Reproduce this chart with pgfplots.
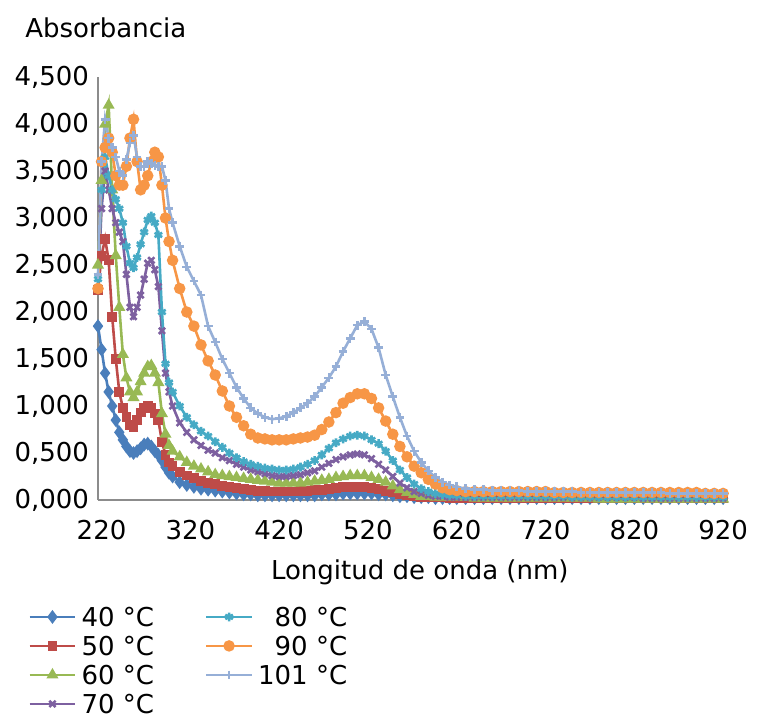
\documentclass[border=0pt]{standalone}
\usepackage{fontspec}
\setmainfont{DejaVu Sans}
\usepackage{pgfplots}
\usepackage{pgfplotstable}
\pgfplotsset{compat=1.18}

\definecolor{c40}{RGB}{74,126,187}
\definecolor{c50}{RGB}{190,75,72}
\definecolor{c60}{RGB}{152,185,84}
\definecolor{c70}{RGB}{125,96,160}
\definecolor{c80}{RGB}{70,170,197}
\definecolor{c90}{RGB}{247,150,70}
\definecolor{c101}{RGB}{150,175,215}
\definecolor{axgray}{RGB}{140,140,140}

% absorbance vs wavelength
\pgfplotstableread{
nm  a40  a50  a60  a70  a80  a90  a101
216 1.85 2.23 2.50 2.25 2.35 2.25 2.40
220 1.60 2.60 3.40 3.10 3.30 3.60 3.60
224 1.35 2.78 4.00 3.50 3.65 3.75 4.05
228 1.15 2.55 4.20 3.30 3.45 3.85 3.85
232 1.00 1.95 3.30 3.10 3.30 3.70 3.75
236 0.85 1.50 2.60 2.95 3.20 3.45 3.65
240 0.72 1.15 2.05 2.85 3.10 3.35 3.50
244 0.64 0.98 1.55 2.75 2.95 3.35 3.45
248 0.57 0.88 1.30 2.40 2.70 3.55 3.62
252 0.52 0.80 1.15 2.05 2.52 3.85 3.80
256 0.50 0.78 1.09 1.95 2.47 4.05 3.88
260 0.52 0.85 1.15 2.05 2.58 3.60 3.65
264 0.55 0.93 1.26 2.18 2.72 3.30 3.55
268 0.59 0.98 1.35 2.35 2.85 3.35 3.55
272 0.60 1.00 1.42 2.52 2.98 3.45 3.60
276 0.57 0.98 1.43 2.55 3.02 3.60 3.58
280 0.52 0.92 1.35 2.45 2.95 3.70 3.56
284 0.48 0.85 1.25 2.27 2.82 3.65 3.55
288 0.42 0.62 0.92 1.80 2.00 3.35 3.55
292 0.35 0.48 0.70 1.35 1.45 3.00 3.40
296 0.29 0.40 0.58 1.15 1.25 2.75 3.10
300 0.25 0.36 0.52 1.00 1.15 2.55 2.95
308 0.19 0.30 0.46 0.82 1.00 2.25 2.70
316 0.16 0.26 0.40 0.72 0.88 2.00 2.48
324 0.14 0.23 0.36 0.64 0.80 1.85 2.33
332 0.12 0.20 0.33 0.58 0.73 1.65 2.18
340 0.11 0.18 0.30 0.53 0.68 1.48 1.85
348 0.10 0.17 0.27 0.50 0.62 1.33 1.68
356 0.09 0.15 0.26 0.45 0.56 1.16 1.50
364 0.08 0.14 0.25 0.42 0.50 1.00 1.35
372 0.07 0.13 0.24 0.38 0.45 0.88 1.20
380 0.06 0.12 0.23 0.35 0.41 0.79 1.08
388 0.06 0.11 0.22 0.32 0.38 0.70 0.98
396 0.05 0.10 0.21 0.30 0.36 0.66 0.92
404 0.05 0.10 0.20 0.28 0.34 0.65 0.88
412 0.05 0.09 0.19 0.26 0.33 0.64 0.86
420 0.05 0.09 0.18 0.25 0.32 0.64 0.87
428 0.05 0.09 0.18 0.25 0.32 0.64 0.89
436 0.05 0.09 0.18 0.26 0.33 0.65 0.93
444 0.05 0.10 0.18 0.27 0.35 0.66 0.98
452 0.05 0.10 0.19 0.29 0.38 0.67 1.03
460 0.05 0.11 0.20 0.31 0.42 0.69 1.10
468 0.06 0.11 0.21 0.35 0.48 0.75 1.20
476 0.06 0.12 0.22 0.39 0.55 0.83 1.30
484 0.06 0.13 0.24 0.43 0.61 0.93 1.42
492 0.07 0.14 0.25 0.46 0.65 1.03 1.58
500 0.07 0.14 0.26 0.48 0.68 1.09 1.72
508 0.07 0.14 0.26 0.49 0.69 1.13 1.86
516 0.07 0.14 0.26 0.48 0.68 1.13 1.90
524 0.07 0.13 0.24 0.44 0.64 1.08 1.82
532 0.06 0.12 0.22 0.38 0.60 0.98 1.62
540 0.06 0.10 0.19 0.32 0.52 0.84 1.33
548 0.05 0.08 0.15 0.25 0.42 0.70 1.10
556 0.04 0.06 0.11 0.18 0.32 0.57 0.88
564 0.04 0.05 0.08 0.13 0.24 0.46 0.68
572 0.03 0.04 0.06 0.09 0.17 0.36 0.52
580 0.03 0.03 0.04 0.07 0.12 0.29 0.40
588 0.03 0.03 0.04 0.05 0.09 0.22 0.31
596 0.02 0.03 0.03 0.04 0.07 0.17 0.24
604 0.02 0.03 0.03 0.04 0.06 0.13 0.19
612 0.02 0.02 0.03 0.03 0.05 0.11 0.16
620 0.02 0.02 0.03 0.03 0.05 0.10 0.14
630 0.02 0.02 0.03 0.03 0.04 0.09 0.12
640 0.02 0.02 0.02 0.03 0.04 0.09 0.11
650 0.02 0.02 0.02 0.03 0.04 0.09 0.11
660 0.02 0.02 0.02 0.03 0.04 0.09 0.10
670 0.02 0.02 0.02 0.03 0.04 0.09 0.10
680 0.02 0.02 0.02 0.03 0.04 0.09 0.10
690 0.02 0.02 0.02 0.03 0.04 0.09 0.10
700 0.02 0.02 0.02 0.03 0.04 0.09 0.09
710 0.02 0.02 0.02 0.03 0.04 0.09 0.09
720 0.02 0.02 0.02 0.03 0.04 0.09 0.09
730 0.02 0.02 0.02 0.03 0.04 0.08 0.09
740 0.02 0.02 0.02 0.03 0.04 0.08 0.09
750 0.02 0.02 0.02 0.03 0.03 0.08 0.09
760 0.02 0.02 0.02 0.03 0.03 0.08 0.08
770 0.02 0.02 0.02 0.03 0.03 0.08 0.08
780 0.02 0.02 0.01 0.03 0.03 0.08 0.08
790 0.02 0.02 0.01 0.03 0.03 0.08 0.08
800 0.02 0.02 0.01 0.03 0.03 0.08 0.08
810 0.02 0.02 0.01 0.03 0.03 0.08 0.08
820 0.02 0.02 0.01 0.03 0.03 0.08 0.08
830 0.02 0.02 0.01 0.02 0.03 0.08 0.08
840 0.02 0.02 0.01 0.02 0.03 0.08 0.08
850 0.02 0.02 0.01 0.02 0.03 0.08 0.08
860 0.02 0.02 0.01 0.02 0.03 0.08 0.07
870 0.02 0.02 0.01 0.02 0.03 0.08 0.07
880 0.02 0.02 0.01 0.02 0.03 0.08 0.07
890 0.02 0.02 0.01 0.02 0.03 0.08 0.07
900 0.02 0.02 0.01 0.02 0.03 0.07 0.07
910 0.02 0.02 0.01 0.02 0.03 0.07 0.07
920 0.02 0.02 0.01 0.02 0.03 0.07 0.07
}\spectra

\pgfplotsset{
  s40/.style={c40, line width=1.3pt, mark=diamond*, mark size=2.4pt, mark options={solid, fill=c40}},
  s50/.style={c50, line width=1.3pt, mark=square*, mark size=1.8pt, mark options={solid, fill=c50}},
  s60/.style={c60, line width=1.3pt, mark=triangle*, mark size=2.2pt, mark options={solid, fill=c60}},
  s70/.style={c70, line width=1.3pt, mark=x, mark size=2.2pt, mark options={solid}},
  s80/.style={c80, line width=1.3pt, mark=asterisk, mark size=2.2pt, mark options={solid}},
  s90/.style={c90, line width=1.3pt, mark=*, mark size=2.2pt, mark options={solid, fill=c90}},
  s101/.style={c101, line width=1.3pt, mark=+, mark size=2.2pt, mark options={solid}},
}

\begin{document}
\fontsize{13}{15.6}\selectfont
\begin{tikzpicture}
\begin{axis}[
  name=ax,
  scale only axis, width=313pt, height=211.5pt,
  xmin=216, xmax=921, ymin=0, ymax=4.5,
  axis x line*=bottom, axis y line*=left,
  axis line style={axgray, line width=1pt},
  major tick length=0pt,
  xtick={220,320,420,520,620,720,820,920},
  ytick={0,0.5,1,1.5,2,2.5,3,3.5,4,4.5},
  /pgf/number format/assume math mode=true,
  yticklabel style={/pgf/number format/.cd, fixed, fixed zerofill, precision=3, use comma},
  xticklabel style={yshift=-5.5pt, /pgf/number format/.cd, 1000 sep={}},
  xlabel={Longitud de onda (nm)},
  xlabel style={at={(axis description cs:0.514,0)}, anchor=center, yshift=-36pt},
  clip=false,
  legend columns=2,
  legend cell align=left,
  legend image code/.code={\draw[mark repeat=2, mark phase=2] plot coordinates {(0cm,0cm) (0.4cm,0cm) (0.8cm,0cm)};},
  legend style={draw=none, fill=none, inner sep=0pt,
    at={(axis description cs:0,0)}, anchor=north west, xshift=-35pt, yshift=-51pt,
    nodes={inner sep=2.5pt, text height=9.5pt, text depth=0pt},
    /tikz/every even column/.append style={column sep=23pt}},
]
\addplot[s40, forget plot] table[x=nm, y=a40] {\spectra};
\addplot[s50, forget plot] table[x=nm, y=a50] {\spectra};
\addplot[s60, forget plot] table[x=nm, y=a60] {\spectra};
\addplot[s70, forget plot] table[x=nm, y=a70] {\spectra};
\addplot[s80, forget plot] table[x=nm, y=a80] {\spectra};
\addplot[s90, forget plot] table[x=nm, y=a90] {\spectra};
\addplot[s101, forget plot] table[x=nm, y=a101] {\spectra};

% legend fills row by row, so list entries to read column by column
\addlegendimage{s40}  \addlegendentry{40 °C}
\addlegendimage{s80}  \addlegendentry{\phantom{1}80 °C}
\addlegendimage{s50}  \addlegendentry{50 °C}
\addlegendimage{s90}  \addlegendentry{\phantom{1}90 °C}
\addlegendimage{s60}  \addlegendentry{60 °C}
\addlegendimage{s101} \addlegendentry{101 °C}
\addlegendimage{s70}  \addlegendentry{70 °C}
\end{axis}
\node[anchor=west, inner sep=0pt] at ([xshift=-36.5pt, yshift=24.5pt]ax.north west) {Absorbancia};
\path ([shift={(-49pt,-110pt)}]ax.south west) rectangle ([shift={(330pt,250pt)}]ax.south west);
\end{tikzpicture}
\end{document}
